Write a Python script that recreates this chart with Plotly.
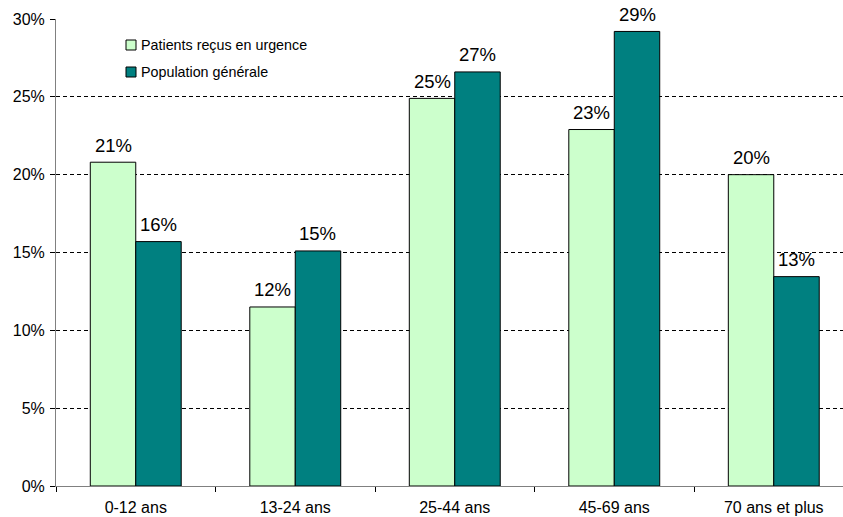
import plotly.graph_objects as go

# Age groups and share of each group (fractions)
categories = ["0-12 ans", "13-24 ans", "25-44 ans", "45-69 ans", "70 ans et plus"]
series_names = ["Patients reçus en urgence", "Population générale"]
patients_urgence = [0.208, 0.115, 0.249, 0.229, 0.200]
population_generale = [0.157, 0.151, 0.266, 0.292, 0.1345]
y_ticks = [0, 0.05, 0.10, 0.15, 0.20, 0.25, 0.30]
y_tick_labels = ["0%", "5%", "10%", "15%", "20%", "25%", "30%"]

colors = ["#CCFFCC", "#008080"]
FONT = "Liberation Sans, Arial, sans-serif"

# Plot-area geometry in pixels (used to place the in-plot legend)
W, H = 843, 517
ML, MT, MB = 56, 19, 31
PW, PH = W - ML, H - MT - MB


def px_to_paper(px, py):
    return (px - ML) / PW, (H - MB - py) / PH


fig = go.Figure()
series_values = [patients_urgence, population_generale]
for i, (name, vals) in enumerate(zip(series_names, series_values)):
    fig.add_trace(go.Bar(
        x=categories, y=vals, name=name,
        marker=dict(color=colors[i], line=dict(color="#000000", width=1)),
        offsetgroup=str(i),
        hoverinfo="skip",
        showlegend=False,
    ))

# Value labels above each bar
n = len(series_names)
bar_frac = 0.57
for i, vals in enumerate(series_values):
    for j, v in enumerate(vals):
        offset = -bar_frac / 2 + bar_frac / n * (i + 0.5)
        fig.add_annotation(
            x=j + offset, y=v, xref="x", yref="y",
            text=f"{round(v * 100):.0f}%", showarrow=False,
            yanchor="middle", yshift=17,
            font=dict(family=FONT, size=18.5, color="#000000"),
        )

# Legend inside the plot: small outlined squares followed by the series names
for i, name in enumerate(series_names):
    cy = 45 + 27 * i
    x0, y0 = px_to_paper(126, cy + 5)
    x1, y1 = px_to_paper(136, cy - 5)
    fig.add_shape(
        type="rect", xref="paper", yref="paper",
        x0=x0, y0=y0, x1=x1, y1=y1,
        fillcolor=colors[i], line=dict(color="#000000", width=1),
    )
    tx, ty = px_to_paper(139, cy)
    fig.add_annotation(
        x=tx, y=ty, xref="paper", yref="paper",
        text=name, showarrow=False, xanchor="left", yanchor="middle",
        font=dict(family=FONT, size=14.3, color="#000000"),
    )

fig.update_layout(
    width=W, height=H,
    margin=dict(l=ML, r=0, t=MT, b=MB),
    paper_bgcolor="#FFFFFF", plot_bgcolor="#FFFFFF",
    barmode="group", bargap=0.43, bargroupgap=0,
    font=dict(family=FONT, size=16, color="#000000"),
    showlegend=False,
    xaxis=dict(
        range=[-0.5, 4.434], type="category",
        showline=True, linecolor="#808080", linewidth=1,
        ticks="outside", tickson="boundaries", ticklen=5, tickcolor="#000000",
        showgrid=False, tickfont=dict(family=FONT, size=16),
        ticklabelstandoff=7, fixedrange=True,
    ),
    yaxis=dict(
        range=[0, 0.30], tickvals=y_ticks, ticktext=y_tick_labels,
        showline=True, linecolor="#808080", linewidth=1,
        ticks="outside", ticklen=5, tickcolor="#000000",
        showgrid=True, gridcolor="#000000", gridwidth=1, griddash="4px,3px",
        zeroline=False, tickfont=dict(family=FONT, size=16),
        ticklabelstandoff=2, fixedrange=True,
    ),
)

fig.write_html("out.html")
